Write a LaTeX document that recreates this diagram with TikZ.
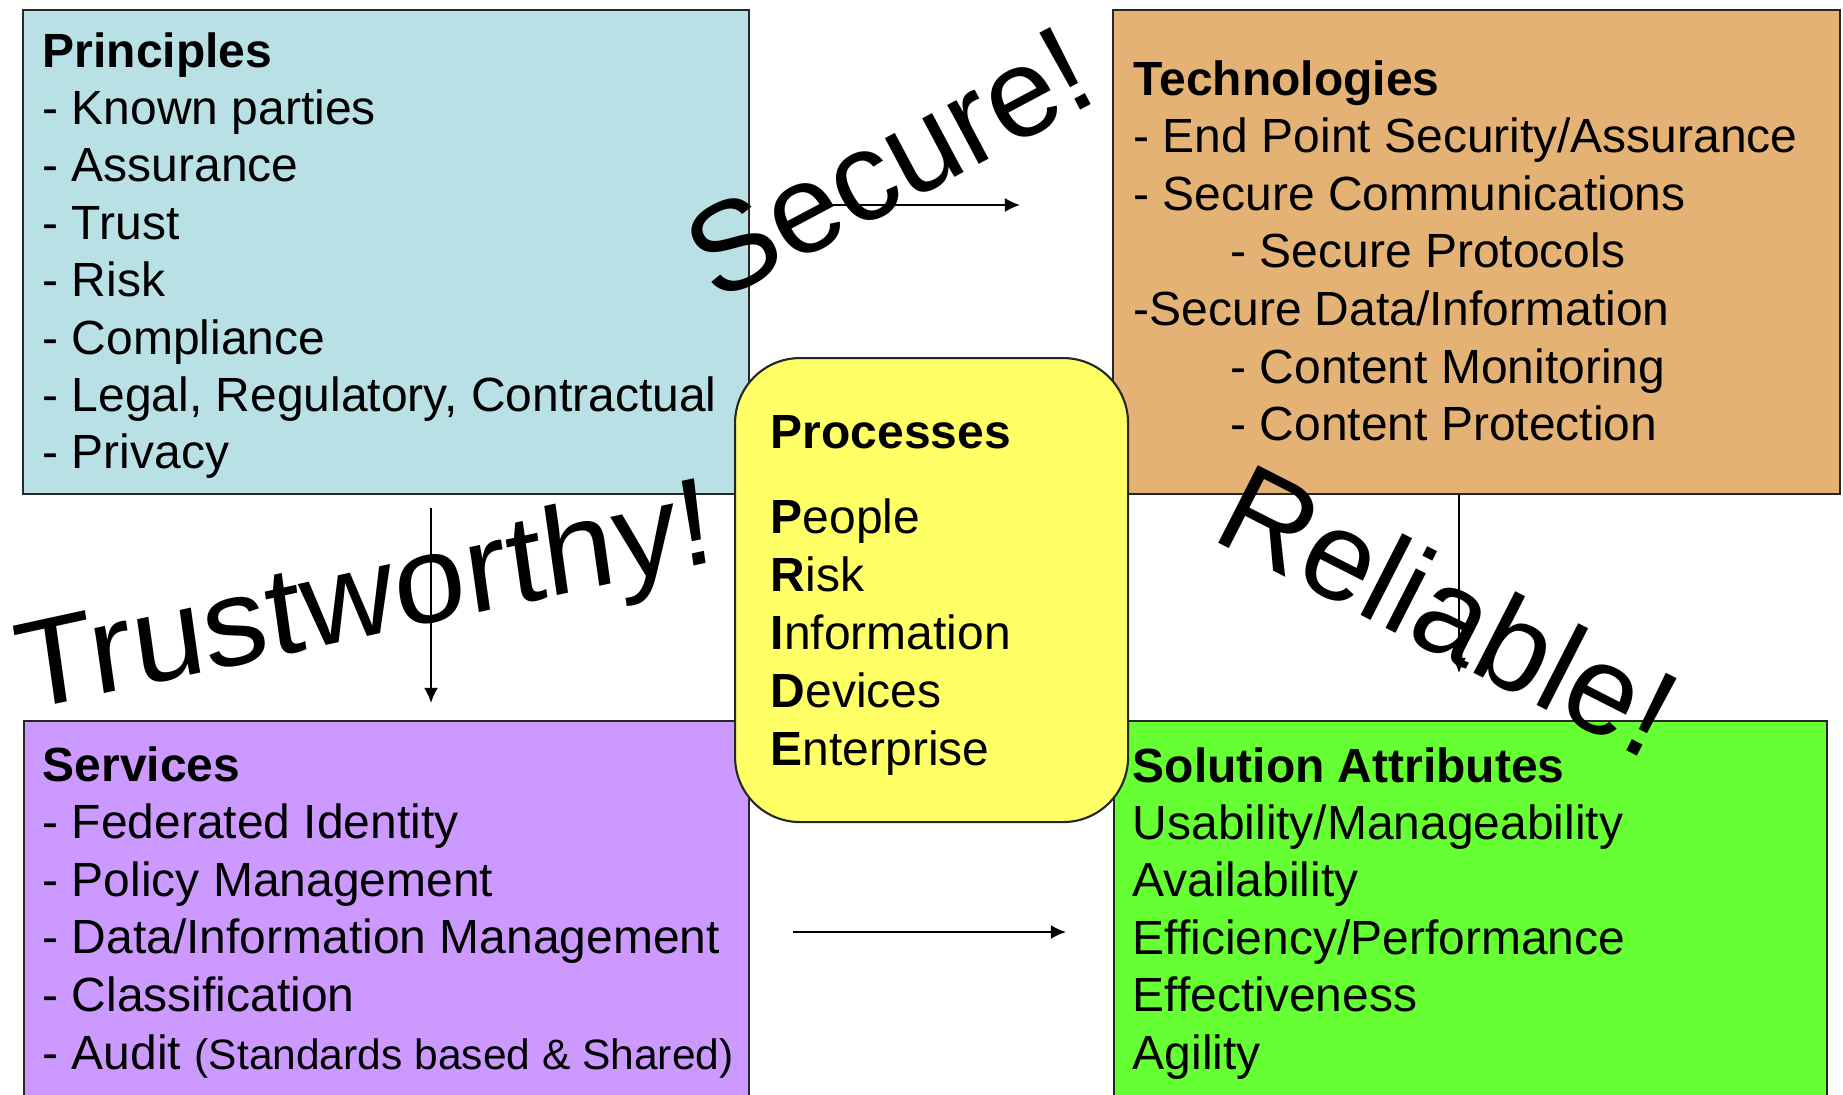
\documentclass[tikz,border=0pt]{standalone}
\usepackage{fontspec}
\setmainfont{Liberation Sans}
\usetikzlibrary{arrows.meta, positioning, calc}

\definecolor{principlesBlue}{RGB}{185,224,228}
\definecolor{techTan}{RGB}{227,178,116}
\definecolor{servicesLilac}{RGB}{204,153,255}
\definecolor{attrGreen}{RGB}{102,255,51}
\definecolor{processYellow}{RGB}{255,255,102}

\begin{document}
\begin{tikzpicture}[
      cornerBox/.style={draw=black!85, line width=0.6pt, anchor=north west, inner sep=0pt},
      itemText/.style={anchor=base west, inner sep=0pt, font=\fontsize{13.65}{16}\selectfont},
      headText/.style={itemText, font=\fontsize{13.65}{16}\selectfont\bfseries},
      bigWord/.style={anchor=base west, inner sep=0pt, font=\fontsize{36}{40}\selectfont},
      flowarrow/.style={line width=0.6pt, -{Latex[length=4.3pt, width=4pt]}}
   ]
   \useasboundingbox (0,0) rectangle (18.43,-10.94);
   \clip (0,0) rectangle (18.43,-10.94);

   % the four corner boxes
   \node[cornerBox, fill=principlesBlue, minimum width=7.26cm, minimum height=4.84cm] (principles) at (0.22,-0.09) {};
   \node[cornerBox, fill=techTan, minimum width=7.27cm, minimum height=4.84cm] (tech) at (11.12,-0.09) {};
   \node[cornerBox, fill=servicesLilac, minimum width=7.25cm, minimum height=4.2cm] (services) at (0.23,-7.20) {};
   \node[cornerBox, fill=attrGreen, minimum width=7.13cm, minimum height=4.2cm] (attributes) at (11.13,-7.20) {};

   % Principles
   \node[headText] (prHead) at (0.42,-0.67) {Principles};
   \foreach \txt [count=\i] in {Known parties, Assurance, Trust, Risk, Compliance, {Legal, Regulatory, Contractual}, Privacy}
      \node[itemText] (pr\i) at (0.42,-0.67-0.574*\i) {- \txt};

   % Technologies
   \node[headText] (teHead) at (11.33,-0.95) {Technologies};
   \foreach \x/\txt [count=\i] in {11.33/{- End Point Security/Assurance}, 11.33/{- Secure Communications},
         12.30/{- Secure Protocols}, 11.33/{-Secure Data/Information}, 12.30/{- Content Monitoring},
         12.30/{- Content Protection}}
      \node[itemText] (te\i) at (\x,-0.95-0.576*\i) {\txt};

   % Services
   \node[headText] (seHead) at (0.42,-7.81) {Services};
   \foreach \txt [count=\i] in {Federated Identity, Policy Management, Data/Information Management, Classification,
         {Audit {\fontsize{12.1}{14}\selectfont(Standards based \& Shared)}}}
      \node[itemText] (se\i) at (0.42,-7.81-0.576*\i) {- \txt};

   % Solution Attributes
   \node[headText] (saHead) at (11.32,-7.82) {Solution Attributes};
   \foreach \txt [count=\i] in {Usability/Manageability, Availability, Efficiency/Performance, Effectiveness, Agility}
      \node[itemText] (sa\i) at (11.32,-7.82-0.574*\i) {\txt};

   % Processes in the middle
   \node[cornerBox, fill=processYellow, rounded corners=0.65cm, minimum width=3.93cm, minimum height=4.64cm] (processes) at (7.34,-3.57) {};
   \node[headText] (prcHead) at (7.70,-4.48) {Processes};
   \foreach \ini/\rest [count=\i from 0] in {P/eople, R/isk, I/nformation, D/evices, E/nterprise}
      \node[itemText] (prc\i) at (7.70,-5.33-0.58*\i) {\textbf{\ini}\rest};

   % big words
   \node[bigWord, rotate=28] (secure) at (7.16,-3.04) {Secure!};
   \node[bigWord, cm={1.006,0.219,-0.137,0.972,(0,0)}] (trustworthy) at (0.22,-7.12) {Trustworthy!};
   \node[bigWord, rotate=-27] (reliable) at (12.09,-5.38) {Reliable!};

   % arrows
   \coordinate (secStart) at (8.30,-2.05);
   \coordinate (secEnd) at (10.20,-2.05);
   \coordinate (trustStart) at (4.31,-5.08);
   \coordinate (trustEnd) at (4.31,-7.03);
   \coordinate (relEnd) at (14.59,-6.73);
   \coordinate (botStart) at (7.93,-9.32);
   \coordinate (botEnd) at (10.66,-9.32);
   \draw[flowarrow] (secStart) -- (secEnd);
   \draw[flowarrow] (trustStart) -- (trustEnd);
   \draw[flowarrow] (tech.south -| relEnd) -- (relEnd);
   \draw[flowarrow] (botStart) -- (botEnd);
\end{tikzpicture}
\end{document}
